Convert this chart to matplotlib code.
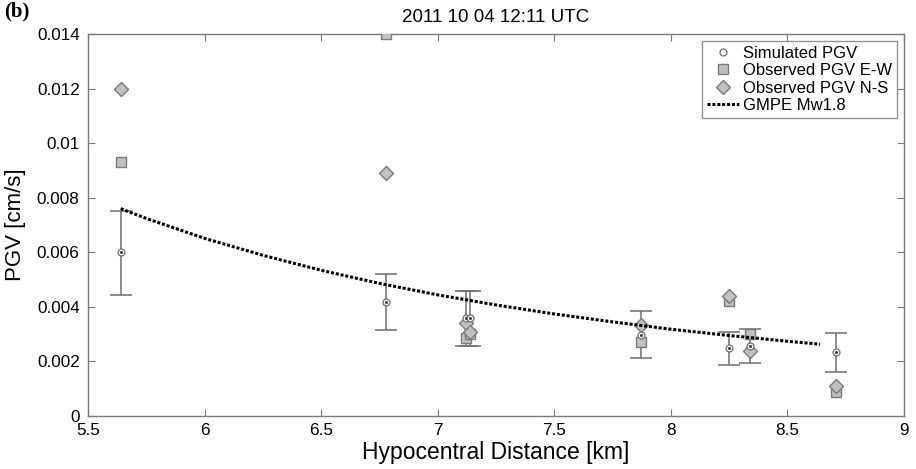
import numpy as np
import matplotlib
matplotlib.use('Agg')
import matplotlib.pyplot as plt

matplotlib.rcParams['font.family'] = ['Liberation Sans', 'DejaVu Sans']
matplotlib.rcParams['font.size'] = 12

# simulated PGV with error bars
sim_dist = [5.64, 6.78, 7.12, 7.14, 7.87, 8.25, 8.34, 8.71]
sim_pgv = [0.0060, 0.00418, 0.0036, 0.0036, 0.00298, 0.00248, 0.00258, 0.00233]
sim_lo = [0.00445, 0.00315, 0.00255, 0.00255, 0.00213, 0.00186, 0.00193, 0.00162]
sim_hi = [0.00752, 0.0052, 0.00459, 0.00459, 0.00386, 0.00309, 0.0032, 0.00305]

# observed
obs_dist = [5.64, 6.78, 7.12, 7.14, 7.87, 8.25, 8.34, 8.71]
obs_ew = [0.0093, 0.0140, 0.00287, 0.0030, 0.00272, 0.0042, 0.0030, 0.00089]
obs_ns = [0.0120, 0.0089, 0.00341, 0.00309, 0.00333, 0.0044, 0.00239, 0.0011]

# GMPE curve
gmpe_dist = [5.64, 5.75, 6.0, 6.25, 6.5, 6.75, 7.0, 7.25, 7.5, 7.75, 8.0, 8.25, 8.5, 8.64]
gmpe_pgv = [0.0076, 0.00724, 0.00651, 0.00589, 0.00534, 0.00486, 0.00444, 0.00407,
            0.00374, 0.00345, 0.00318, 0.00295, 0.00274, 0.00263]

xticks = [5.5, 6, 6.5, 7, 7.5, 8, 8.5, 9]
xlabels = ['5.5', '6', '6.5', '7', '7.5', '8', '8.5', '9']
yticks = [0, 0.002, 0.004, 0.006, 0.008, 0.01, 0.012, 0.014]
ylabels = ['0', '0.002', '0.004', '0.006', '0.008', '0.01', '0.012', '0.014']

fig = plt.figure(figsize=(9.16, 4.69), dpi=100)
ax = fig.add_axes([0.0961, 0.113, 0.8908, 0.8145])

sim_pgv = np.array(sim_pgv)
yerr = [sim_pgv - np.array(sim_lo), np.array(sim_hi) - sim_pgv]
ax.errorbar(sim_dist, sim_pgv, yerr=yerr, fmt='none', ecolor='#6e6e6e',
            elinewidth=1.1, capsize=8, capthick=1.1, zorder=2)
ax.plot(obs_dist, obs_ew, 's', ms=7, mfc='#c0c0c0', mec='#7a7a7a', mew=1,
        label='Observed PGV E-W', zorder=3)
ax.plot(obs_dist, obs_ns, 'D', ms=7.5, mfc='#c0c0c0', mec='#7a7a7a', mew=1,
        label='Observed PGV N-S', zorder=4)
ax.plot(sim_dist, sim_pgv, 'o', ms=5, mfc='white', mec='#6e6e6e', mew=0.9,
        label='Simulated PGV', zorder=5)
ax.plot(sim_dist, sim_pgv, '.', ms=2.5, color='#444444', zorder=6)
ax.plot(gmpe_dist, gmpe_pgv, color='black', lw=2.2, ls=(0, (1, 0.6)),
        label='GMPE Mw1.8', zorder=7)

ax.set_xlim(5.5, 9)
ax.set_ylim(0, 0.014)
ax.set_xticks(xticks)
ax.set_xticklabels(xlabels)
ax.set_yticks(yticks)
ax.set_yticklabels(ylabels)
ax.tick_params(direction='in', top=True, right=True, length=5, color='#7a7a7a',
               labelsize=12.3)
ax.tick_params(axis='x', pad=5)
ax.tick_params(axis='y', pad=6)
for s in ax.spines.values():
    s.set_color('#7a7a7a')
    s.set_linewidth(1)

ax.set_xlabel('Hypocentral Distance [km]', fontsize=16.5, labelpad=2)
ax.set_ylabel('PGV [cm/s]', fontsize=16, labelpad=8)
ax.set_title('2011 10 04 12:11 UTC', fontsize=13.5, pad=9)

h, l = ax.get_legend_handles_labels()
order = [2, 0, 1, 3]
leg = ax.legend([h[i] for i in order], [l[i] for i in order], loc='upper right',
                fancybox=False, edgecolor='#7a7a7a', fontsize=12,
                handlelength=1.9, handletextpad=0.25, borderpad=0.3,
                labelspacing=0.15, borderaxespad=0.4)
leg.get_frame().set_linewidth(1)

fig.text(0.005, 0.965, '(b)', fontsize=15, fontweight='bold',
         family='Liberation Serif')

fig.savefig('out.png', dpi=100)
